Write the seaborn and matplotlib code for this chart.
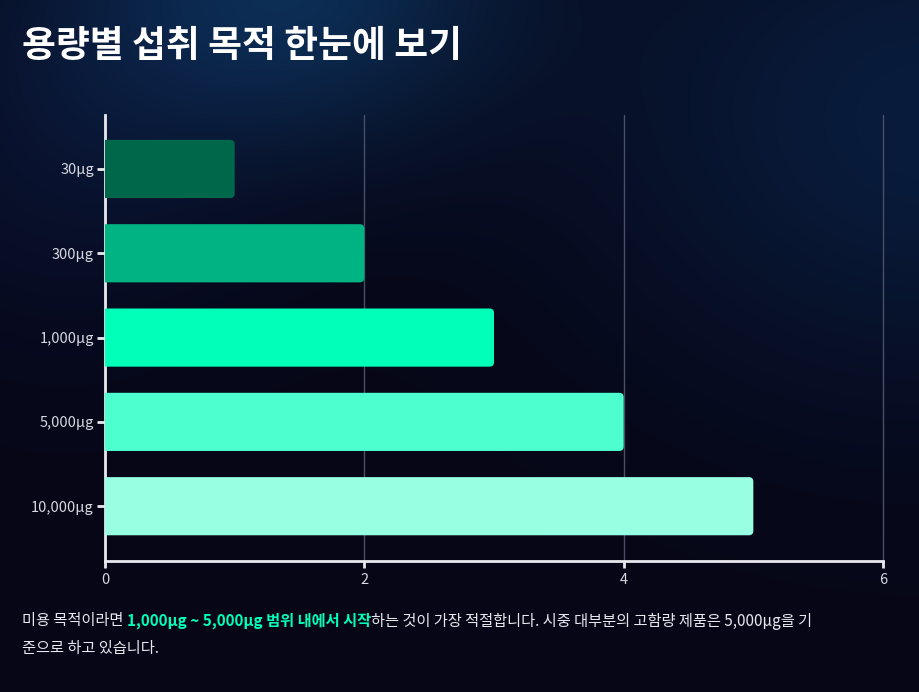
import numpy as np
import pandas as pd
import matplotlib
matplotlib.use("Agg")
import matplotlib.pyplot as plt
import seaborn as sns
from matplotlib.patches import FancyBboxPatch

# ---- data ----
categories = ["30μg", "300μg", "1,000μg", "5,000μg", "10,000μg"]
values = [1, 2, 3, 4, 5]
bar_colors = ["#00684A", "#00B383", "#00FFB9", "#4DFFCF", "#99FFE2"]
x_ticks = [0, 2, 4, 6]
title = "용량별 섭취 목적 한눈에 보기"
note_line1 = [("미용 목적이라면 ", "normal", "#E6E8EE"),
              ("1,000μg ~ 5,000μg 범위 내에서 시작", "bold", "#00FFB9"),
              ("하는 것이 가장 적절합니다. 시중 대부분의 고함량 제품은 5,000μg을 기", "normal", "#E6E8EE")]
note_line2 = "준으로 하고 있습니다."

df = pd.DataFrame({"dose": categories, "value": values})

sns.set_theme(style="dark")
plt.rcParams["font.family"] = ["Noto Sans CJK KR", "DejaVu Sans"]

W, H = 920, 692
fig = plt.figure(figsize=(W / 100, H / 100), dpi=100)
fig.patch.set_facecolor("#07071A")

# background gradient
yy, xx = np.mgrid[0:H, 0:W].astype(float)
base = np.array([6, 6, 22], float)
img = np.ones((H, W, 3)) * base
g1 = np.exp(-(((xx - 290) / 230) ** 2 + ((yy + 10) / 160) ** 2))
g2 = np.exp(-(((xx - 930) / 340) ** 2 + ((yy - 120) / 270) ** 2))
g3 = np.exp(-(((xx - 60) / 200) ** 2 + ((yy - 150) / 200) ** 2))
img += g1[..., None] * (np.array([12, 44, 82]) - base)
img += g2[..., None] * (np.array([9, 28, 60]) - base) * (1 - g1[..., None])
img += g3[..., None] * (np.array([10, 22, 55]) - base) * 0.6
img = np.clip(img, 0, 255) / 255
bg = fig.add_axes([0, 0, 1, 1], zorder=-10)
bg.imshow(img, aspect="auto", extent=[0, W, H, 0])
bg.axis("off")

ax = fig.add_axes([105 / W, 1 - 561 / H, (883 - 105) / W, (561 - 115) / H])
ax.set_facecolor("none")

sns.barplot(data=df, y="dose", x="value", hue="dose", palette=bar_colors,
            orient="h", width=0.69, legend=False, ax=ax, saturation=1)

ax.set_xlim(0, 6)
ax.set_ylim(4.65, -0.64)

# replace bars with rounded ones
xpx = (883 - 105) / 6.0
ypx = (561 - 115) / (4.65 + 0.64)
for p in list(ax.patches):
    x0, y0, w, h = p.get_x(), p.get_y(), p.get_width(), p.get_height()
    fc = p.get_facecolor()
    p.set_visible(False)
    r = 4.5 / xpx
    fb = FancyBboxPatch((x0 - 0.1, y0), w + 0.1, h,
                        boxstyle=f"round,pad=0,rounding_size={r}",
                        mutation_aspect=xpx / ypx,
                        facecolor=fc, edgecolor="none", zorder=3)
    ax.add_patch(fb)

ax.set_xticks(x_ticks)
ax.set_xticklabels([str(t) for t in x_ticks])
ax.grid(axis="x", color="#4A4E66", linewidth=1)
ax.grid(axis="y", visible=False)
for gl in ax.get_xgridlines():
    gl.set_clip_on(False)
ax.set_axisbelow(True)
ax.set_xlabel("")
ax.set_ylabel("")

for s in ["top", "right"]:
    ax.spines[s].set_visible(False)
for s in ["left", "bottom"]:
    ax.spines[s].set_visible(True)
    ax.spines[s].set_color("#E8E8EE")
    ax.spines[s].set_linewidth(2)
ax.tick_params(axis="y", colors="#E8E8EE", labelcolor="#D6D8E0", length=6, width=2,
               labelsize=10.5, left=True, pad=2)
ax.tick_params(axis="x", colors="#E8E8EE", labelcolor="#D6D8E0", length=5, width=2,
               labelsize=10.5, bottom=True, pad=4)

fig.text(22 / W, 1 - 46 / H, title, color="white", fontsize=26.5, fontweight="bold",
         va="center", ha="left")

# footnote with highlighted part
fig.canvas.draw()
renderer = fig.canvas.get_renderer()

def width_of(s, weight, size):
    t = fig.text(0, 0, s, fontsize=size, fontweight=weight)
    w = t.get_window_extent(renderer).width
    t.remove()
    return w

size = 11
space_w = width_of("가 가", "normal", size) - width_of("가가", "normal", size)
x = 22.0
y1 = 1 - 621 / H
for s, wt, col in note_line1:
    stripped = s.rstrip(" ")
    t = fig.text(x / W, y1, stripped, fontsize=size, fontweight=wt, color=col,
                 va="center", ha="left")
    w = t.get_window_extent(renderer).width
    x += w + space_w * (len(s) - len(stripped))
fig.text(22 / W, 1 - 648 / H, note_line2, fontsize=size, color="#E6E8EE",
         va="center", ha="left")

fig.savefig("out.png", dpi=100, facecolor=fig.get_facecolor())
